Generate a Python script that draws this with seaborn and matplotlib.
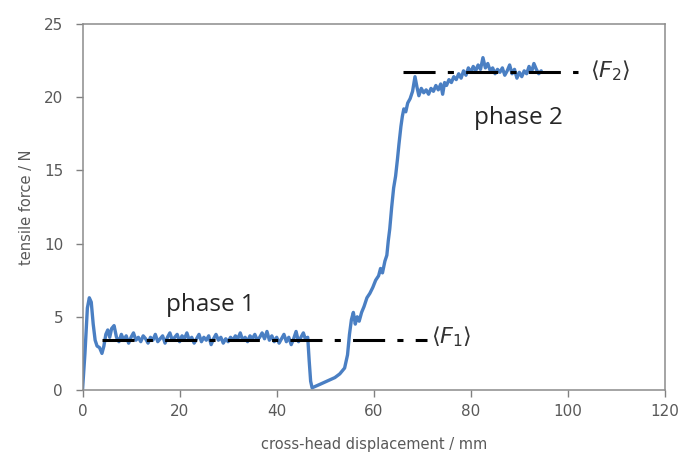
import seaborn as sns
import matplotlib.pyplot as plt
import pandas as pd

displacement = [0, 0.5, 1.0, 1.4, 1.8, 2.2, 2.6, 3.0, 3.5, 4.0, 4.4, 4.8, 5.2, 5.6, 6.0, 6.5,
                7.0, 7.5, 8.0, 8.5, 9.0, 9.5, 10.0, 10.5, 11.0, 11.5, 12.0, 12.5, 13.0, 13.5,
                14.0, 14.5, 15.0, 15.5, 16.0, 16.5, 17.0, 17.5, 18.0, 18.5, 19.0, 19.5, 20.0,
                20.5, 21.0, 21.5, 22.0, 22.5, 23.0, 23.5, 24.0, 24.5, 25.0, 25.5, 26.0, 26.5,
                27.0, 27.5, 28.0, 28.5, 29.0, 29.5, 30.0, 30.5, 31.0, 31.5, 32.0, 32.5, 33.0,
                33.5, 34.0, 34.5, 35.0, 35.5, 36.0, 36.5, 37.0, 37.5, 38.0, 38.5, 39.0, 39.5,
                40.0, 40.5, 41.0, 41.5, 42.0, 42.5, 43.0, 43.5, 44.0, 44.5, 45.0, 45.5, 46.0,
                46.4, 46.7, 47.0, 47.3, 48.0, 49.0, 50.0, 51.0, 52.0, 53.0, 54.0, 54.6, 55.0,
                55.4, 55.8, 56.2, 56.6, 57.0, 57.5, 58.0, 58.6, 59.2, 59.8, 60.4, 61.0, 61.4,
                61.8, 62.3, 62.7, 63.0, 63.3, 63.7, 64.1, 64.5, 64.9, 65.2, 65.6, 65.9, 66.2,
                66.6, 67.0, 67.5, 68.0, 68.5, 68.9, 69.3, 69.8, 70.3, 70.8, 71.3, 71.8, 72.3,
                72.8, 73.3, 73.8, 74.2, 74.6, 75.0, 75.5, 76.0, 76.5, 77.0, 77.5, 78.0, 78.5,
                79.0, 79.5, 80.0, 80.5, 81.0, 81.5, 82.0, 82.5, 83.0, 83.5, 84.0, 84.5, 85.0,
                85.5, 86.0, 86.5, 87.0, 87.5, 88.0, 88.5, 89.0, 89.5, 90.0, 90.5, 91.0, 91.5,
                92.0, 92.5, 93.0, 93.5, 94.0, 94.5]
force = [0, 2.5, 5.6, 6.3, 6.0, 4.5, 3.4, 3.0, 2.9, 2.5, 3.0, 3.8, 4.1, 3.6, 4.2, 4.4,
         3.6, 3.3, 3.8, 3.4, 3.7, 3.2, 3.6, 3.9, 3.4, 3.6, 3.3, 3.7, 3.5, 3.2,
         3.6, 3.4, 3.8, 3.3, 3.5, 3.7, 3.2, 3.6, 3.9, 3.4, 3.6, 3.8, 3.3,
         3.7, 3.5, 3.9, 3.4, 3.6, 3.2, 3.5, 3.8, 3.3, 3.6, 3.4, 3.7, 3.1,
         3.5, 3.8, 3.4, 3.6, 3.2, 3.5, 3.3, 3.6, 3.4, 3.7, 3.5, 3.9, 3.4,
         3.6, 3.3, 3.7, 3.5, 3.8, 3.4, 3.6, 3.9, 3.5, 4.0, 3.4, 3.7, 3.3,
         3.6, 3.2, 3.5, 3.8, 3.3, 3.6, 3.1, 3.5, 4.0, 3.3, 3.6, 3.9, 3.4,
         3.6, 2.0, 0.6, 0.15, 0.25, 0.4, 0.55, 0.7, 0.85, 1.1, 1.5, 2.4, 3.8,
         4.8, 5.3, 4.5, 5.0, 4.7, 5.3, 5.7, 6.3, 6.6, 7.0, 7.5, 7.8, 8.3,
         8.0, 8.8, 9.2, 10.2, 11.0, 12.5, 13.8, 14.6, 15.8, 16.8, 18.0, 18.7, 19.2,
         19.0, 19.6, 19.9, 20.4, 21.4, 20.7, 20.1, 20.6, 20.3, 20.5, 20.2, 20.6, 20.4,
         20.8, 20.5, 20.9, 20.2, 21.0, 20.8, 21.2, 21.0, 21.4, 21.2, 21.6, 21.3, 21.8,
         21.5, 22.0, 21.7, 22.1, 21.8, 22.2, 21.9, 22.7, 22.0, 22.3, 21.8, 22.0, 21.6,
         21.9, 21.7, 22.0, 21.5, 21.8, 22.2, 21.6, 21.9, 21.3, 21.7, 21.4, 21.8, 21.6,
         22.1, 21.7, 22.3, 21.9, 21.6, 21.8]

# mean force levels and the range each dash-dot line covers
f1_span = [4, 71]
f1_level = 3.42
f2_span = [66, 102]
f2_level = 21.7

df = pd.DataFrame({'displacement': displacement, 'force': force})

sns.set_style('white')
fig, ax = plt.subplots(figsize=(6.82, 4.61), dpi=100)
fig.subplots_adjust(left=0.121, right=0.975, bottom=0.154, top=0.948)

sns.lineplot(data=df, x='displacement', y='force', ax=ax, color='#4a7fc3',
             linewidth=2.4, estimator=None, sort=False)

# dash-dot mean lines
for span, level in [(f1_span, f1_level), (f2_span, f2_level)]:
    ax.plot(span, [level, level], color='black', linewidth=2.2,
            dashes=(10.5, 4, 2, 4), solid_capstyle='butt')

ax.text(71.8, f1_level + 0.25, r'$\langle F_1 \rangle$', fontsize=16, color='#333333', va='center')
ax.text(104.6, f2_level + 0.1, r'$\langle F_2 \rangle$', fontsize=16, color='#333333', va='center')
ax.text(26.3, 5.8, 'phase 1', fontsize=17.5, family='Open Sans', ha='center', va='center')
ax.text(89.9, 18.6, 'phase 2', fontsize=17.5, family='Open Sans', ha='center', va='center')

ax.set_xlim(0, 120)
ax.set_ylim(0, 25)
ax.set_xticks(range(0, 121, 20))
ax.set_yticks(range(0, 26, 5))
ax.set_xlabel('cross-head displacement / mm', fontsize=10.5, color='#595959', labelpad=13)
ax.set_ylabel('tensile force / N', fontsize=10.5, color='#595959', labelpad=7)
ax.tick_params(direction='out', length=5, width=1, color='#808080',
               labelsize=11, labelcolor='#595959', bottom=True, left=True)
ax.tick_params(axis='y', pad=9)
ax.tick_params(axis='x', pad=5)
for s in ax.spines.values():
    s.set_color('#8c8c8c')
    s.set_linewidth(1.1)

plt.savefig('out.png', dpi=100)
